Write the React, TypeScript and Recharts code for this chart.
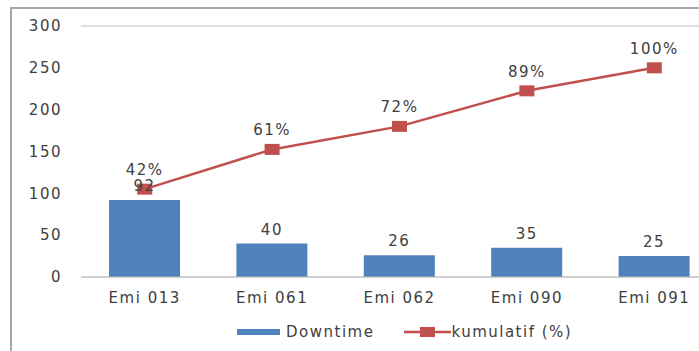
import { ComposedChart, Bar, Line, XAxis, YAxis, CartesianGrid, Legend, LabelList } from 'recharts'

const mesin = ['Emi 013', 'Emi 061', 'Emi 062', 'Emi 090', 'Emi 091']
const downtime = [92, 40, 26, 35, 25]
const kumulatif = [42, 61, 72, 89, 100]
const yTicks = [0, 50, 100, 150, 200, 250, 300]

const data = mesin.map((m, i) => ({ mesin: m, downtime: downtime[i], kumulatif: kumulatif[i] }))

const BLUE = '#4F81BD'
const RED = '#C0504D'
const TEXT = '#404040'
const font = { fontFamily: 'DejaVu Sans', fontSize: 15, letterSpacing: 1.5, fill: TEXT }

function SquareDot(props: any) {
  const { cx, cy } = props
  if (cx == null || cy == null) return null
  return <rect x={cx - 7.5} y={cy - 5.5} width={15} height={11} fill={RED} />
}

function LegendBox() {
  const txt = { fontFamily: 'DejaVu Sans', fontSize: 15, letterSpacing: 1.5, color: TEXT }
  return (
    <div style={{ display: 'flex', alignItems: 'center', height: 20 }}>
      <span style={{ display: 'inline-block', width: 43, height: 6, background: BLUE, marginRight: 6 }} />
      <span style={txt}>Downtime</span>
      <svg width={47} height={12} style={{ marginLeft: 30 }}>
        <line x1={0} y1={6} x2={47} y2={6} stroke={RED} strokeWidth={2.5} />
        <rect x={16} y={1} width={15} height={10} fill={RED} />
      </svg>
      <span style={txt}>kumulatif (%)</span>
    </div>
  )
}

export default function App() {
  return (
    <div style={{ position: 'absolute', left: 0, top: 0, width: 699, height: 351, overflow: 'hidden', background: '#fff' }}>
      <div
        style={{
          position: 'absolute',
          left: 10,
          top: 7,
          width: 720,
          height: 400,
          borderLeft: '2px solid #a6a6a6',
          borderTop: '2px solid #a6a6a6',
        }}
      />
      <ComposedChart
        width={720}
        height={351}
        data={data}
        margin={{ top: 26, right: 2, left: 0, bottom: 24 }}
        style={{ position: 'absolute', left: 0, top: 0 }}
      >
        <CartesianGrid vertical={false} stroke="#c0c0c0" />
        <XAxis
          dataKey="mesin"
          height={30}
          tickLine={false}
          axisLine={{ stroke: '#c0c0c0' }}
          tickMargin={9}
          tick={font}
        />
        <YAxis
          yAxisId="left"
          width={81}
          domain={[0, 300]}
          ticks={yTicks}
          axisLine={false}
          tickLine={false}
          tickMargin={13}
          tick={font}
        />
        <YAxis yAxisId="pct" orientation="right" domain={[0, 120]} hide />
        <Legend verticalAlign="bottom" content={() => <LegendBox />} wrapperStyle={{ left: 237, width: 'auto', bottom: 9 }} />
        <Bar yAxisId="left" dataKey="downtime" name="Downtime" fill={BLUE} barSize={71} isAnimationActive={false}>
          <LabelList dataKey="downtime" position="top" offset={9} style={font} />
        </Bar>
        <Line
          yAxisId="pct"
          dataKey="kumulatif"
          name="kumulatif (%)"
          stroke={RED}
          strokeWidth={2.5}
          dot={<SquareDot />}
          activeDot={false}
          isAnimationActive={false}
        >
          <LabelList dataKey="kumulatif" position="top" offset={14} formatter={(v: any) => `${v}%`} style={font} />
        </Line>
      </ComposedChart>
    </div>
  )
}
